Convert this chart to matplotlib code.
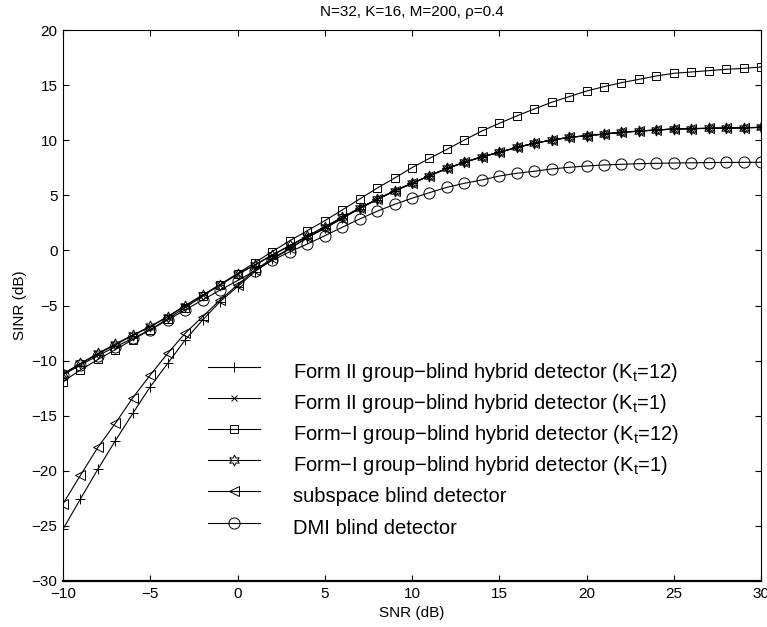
import matplotlib
matplotlib.use("Agg")
import matplotlib.pyplot as plt
import numpy as np

plt.rcParams['font.family'] = ['Liberation Sans', 'DejaVu Sans']
plt.rcParams['mathtext.fontset'] = 'custom'
plt.rcParams['mathtext.rm'] = 'Liberation Sans'
plt.rcParams['mathtext.it'] = 'Liberation Sans'

snr = list(range(-10, 31))

form2_kt12 = [-25.3, -22.55, -19.85, -17.27, -14.79, -12.37, -10.25, -8.13, -6.32, -4.65,
              -3.29, -1.93, -0.80, 0.15, 1.15, 2.00, 2.90, 3.80, 4.60, 5.40,
              6.08, 6.77, 7.44, 7.98, 8.49, 8.90, 9.34, 9.71, 10.01, 10.25,
              10.41, 10.56, 10.71, 10.82, 10.92, 11.01, 11.05, 11.08, 11.10, 11.13, 11.16]
form2_kt1 = [-11.25, -10.30, -9.40, -8.55, -7.72, -6.93, -6.03, -5.04, -4.08, -3.13,
             -2.18, -1.33, -0.44, 0.42, 1.27, 2.12, 2.97, 3.83, 4.63, 5.39,
             6.08, 6.76, 7.44, 7.98, 8.49, 8.89, 9.34, 9.71, 10.01, 10.25,
             10.40, 10.55, 10.71, 10.82, 10.92, 11.01, 11.04, 11.07, 11.10, 11.12, 11.16]
form1_kt12 = [-11.9, -10.85, -9.90, -9.00, -8.10, -7.20, -6.20, -5.20, -4.15, -3.10,
              -2.10, -1.10, -0.10, 0.88, 1.79, 2.69, 3.67, 4.66, 5.65, 6.56,
              7.51, 8.35, 9.17, 10.02, 10.83, 11.53, 12.20, 12.83, 13.44, 13.95,
              14.46, 14.86, 15.22, 15.52, 15.83, 16.07, 16.19, 16.31, 16.43, 16.52, 16.64]
form1_kt1 = [-11.2, -10.25, -9.35, -8.50, -7.68, -6.90, -6.00, -5.00, -4.05, -3.10,
             -2.15, -1.30, -0.40, 0.45, 1.30, 2.15, 3.00, 3.85, 4.65, 5.40,
             6.10, 6.78, 7.45, 7.99, 8.50, 8.90, 9.35, 9.72, 10.02, 10.26,
             10.41, 10.56, 10.72, 10.83, 10.93, 11.02, 11.05, 11.08, 11.11, 11.13, 11.17]
subspace = [-23.0, -20.4, -17.87, -15.69, -13.37, -11.31, -9.34, -7.52, -6.01, -4.50,
            -3.14, -1.78, -0.72, 0.19, 1.19, 2.00, 2.91, 3.82, 4.63, 5.42,
            6.09, 6.78, 7.45, 7.99, 8.50, 8.90, 9.35, 9.72, 10.02, 10.26,
            10.41, 10.56, 10.72, 10.83, 10.93, 11.02, 11.05, 11.08, 11.11, 11.13, 11.17]
dmi = [-11.3, -10.4, -9.55, -8.75, -7.98, -7.20, -6.32, -5.40, -4.50, -3.60,
       -2.75, -1.84, -0.90, -0.12, 0.58, 1.33, 2.10, 2.85, 3.55, 4.18,
       4.73, 5.24, 5.72, 6.09, 6.39, 6.75, 7.00, 7.18, 7.39, 7.54,
       7.66, 7.75, 7.81, 7.87, 7.90, 7.93, 7.95, 7.97, 7.98, 7.99, 8.00]

labels = [
    "Form II group\u2212blind hybrid detector (K$_\\mathregular{t}$=12)",
    "Form II group\u2212blind hybrid detector (K$_\\mathregular{t}$=1)",
    "Form\u2212I group\u2212blind hybrid detector (K$_\\mathregular{t}$=12)",
    "Form\u2212I group\u2212blind hybrid detector (K$_\\mathregular{t}$=1)",
    "subspace blind detector",
    "DMI blind detector",
]
title = "N=32, K=16, M=200, \u03c1=0.4"

series = [form2_kt12, form2_kt1, form1_kt12, form1_kt1, subspace, dmi]
markers = ['+', 'x', 's', (6, 1, 0), '<', 'o']
msizes = [7, 5, 6, 8, 7, 8]

fig = plt.figure(figsize=(7.67, 6.27), dpi=100)
ax = fig.add_axes([63/767, 46/627, 698/767, 551/627])

for y, m, ms, lab in zip(series, markers, msizes, labels):
    ax.plot(snr, y, color='black', lw=0.8, marker=m, ms=ms, mfc='none',
            mec='black', mew=0.7, label=lab)

ax.set_xlim(-10, 30)
ax.set_ylim(-30, 20)
ax.set_xticks(range(-10, 31, 5))
ax.set_yticks(range(-30, 21, 5))
ax.tick_params(direction='in', top=True, right=True, length=4, width=0.8,
               labelsize=11, pad=4)
for s in ax.spines.values():
    s.set_linewidth(0.8)
ax.spines['bottom'].set_linewidth(1.6)

ax.set_xlabel("SNR (dB)", fontsize=11, labelpad=4)
ax.set_ylabel("SINR (dB)", fontsize=11, labelpad=3)
ax.set_title(title, fontsize=11, pad=10)

leg = ax.legend(loc='upper left', bbox_to_anchor=(208/767, 1 - 356/627),
                bbox_transform=fig.transFigure, frameon=False, fontsize=14.5,
                handlelength=2.6, handleheight=2.0, handletextpad=1.64,
                labelspacing=0.0, borderpad=0, borderaxespad=0)

fig.savefig("out.png", dpi=100)
